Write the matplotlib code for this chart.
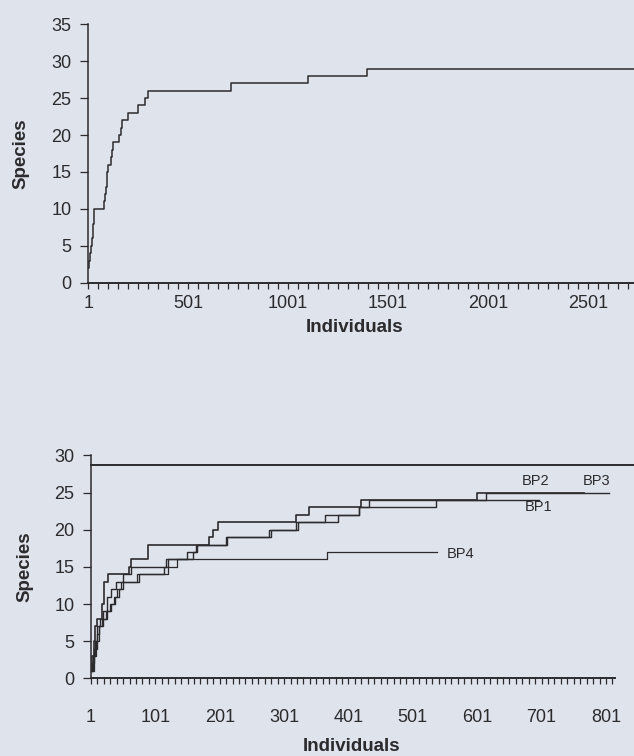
import numpy as np
import matplotlib
matplotlib.use("Agg")
import matplotlib.pyplot as plt
from matplotlib.ticker import FixedLocator, MultipleLocator

# ===============================
# DATA (individuals at which species count steps up)
# ===============================

# all samples pooled
top_ind = [1, 5, 10, 13, 20, 24, 28, 32, 82, 86, 90, 94, 98, 116, 121, 124,
           157, 163, 172, 200, 250, 283, 300, 715, 1100, 1395, 2730]
top_sp = [2, 3, 4, 5, 6, 8, 9, 10, 11, 12, 13, 15, 16, 17, 18, 19,
          20, 21, 22, 23, 24, 25, 26, 27, 28, 29, 29]

bp1_ind = [1, 3, 6, 10, 14, 20, 26, 32, 38, 44, 50, 76, 115, 120, 160, 165,
           212, 280, 322, 384, 418, 537, 697]
bp1_sp = [1, 2, 4, 6, 7, 8, 9, 10, 11, 12, 13, 14, 15, 16, 17, 18,
          19, 20, 21, 22, 23, 24, 24]

bp2_ind = [1, 3, 5, 8, 11, 18, 22, 27, 60, 63, 89, 184, 190, 198, 320, 340,
           420, 600, 767]
bp2_sp = [1, 3, 5, 7, 8, 10, 13, 14, 15, 16, 18, 19, 20, 21, 22, 23,
          24, 25, 25]

bp3_ind = [1, 4, 7, 10, 15, 20, 26, 32, 40, 50, 63, 117, 150, 164, 210, 277,
           320, 364, 418, 433, 615, 805]
bp3_sp = [1, 3, 5, 7, 8, 9, 11, 12, 13, 14, 15, 16, 17, 18, 19, 20,
          21, 22, 23, 24, 25, 25]

bp4_ind = [1, 5, 9, 13, 18, 24, 30, 36, 42, 48, 73, 120, 135, 368, 539]
bp4_sp = [1, 3, 5, 7, 8, 9, 10, 11, 12, 13, 14, 15, 16, 17, 17]

total_line = 28.7

curve_names = ["BP1", "BP2", "BP3", "BP4"]
label_pos = [(697, 23.0), (691, 26.6), (787, 26.6), (575, 16.8)]

top_labels = [1, 501, 1001, 1501, 2001, 2501]
bot_labels = [1, 101, 201, 301, 401, 501, 601, 701, 801]

# ===============================
# STYLE
# ===============================

bg = "#dfe3ec"
ink = "#2b2b2e"
plt.rcParams["font.family"] = ["Liberation Sans", "DejaVu Sans"]

fig = plt.figure(figsize=(6.34, 7.56), dpi=100)
fig.patch.set_facecolor(bg)

def style_axis(ax, xmax, ymax, major, minor_step, xpad):
    ax.set_facecolor(bg)
    for s in ["top", "right"]:
        ax.spines[s].set_visible(False)
    ax.spines["left"].set_color(ink)
    ax.spines["left"].set_linewidth(1.1)
    ax.spines["bottom"].set_color(ink)
    ax.spines["bottom"].set_linewidth(1.4)
    ax.set_xlim(1, xmax)
    ax.set_ylim(0, ymax)
    ax.xaxis.set_major_locator(FixedLocator(major))
    ax.xaxis.set_minor_locator(FixedLocator(np.arange(1, xmax, minor_step)))
    ax.set_xticklabels([str(v) for v in major])
    ax.yaxis.set_major_locator(MultipleLocator(5))
    ax.tick_params(axis="y", direction="out", length=6, width=0.9,
                   color=ink, labelsize=13, labelcolor=ink, pad=6)
    ax.tick_params(axis="x", which="both", direction="out", length=4,
                   width=0.9, color=ink, labelsize=13, labelcolor=ink,
                   pad=xpad)

# ===============================
# TOP PANEL
# ===============================

ax1 = fig.add_axes([0.139, 0.626, 0.861, 0.342])
style_axis(ax1, 2730, 35, top_labels, 50, 5)
ax1.step(top_ind, top_sp, where="post", color=ink, lw=1.1)

fig.text(0.033, 0.797, "Species", rotation=90, ha="center", va="center",
         fontsize=13.5, fontweight="bold", color=ink)
fig.text(0.56, 0.567, "Individuals", ha="center", va="center",
         fontsize=13.5, fontweight="bold", color=ink)

# ===============================
# BOTTOM PANEL
# ===============================

ax2 = fig.add_axes([0.1435, 0.1028, 0.8265, 0.2947])
style_axis(ax2, 815, 30, bot_labels, 10, 18)

curves = [(bp1_ind, bp1_sp, 1.0), (bp2_ind, bp2_sp, 1.2),
          (bp3_ind, bp3_sp, 1.0), (bp4_ind, bp4_sp, 0.9)]
for (xs, ys, w) in curves:
    ax2.step(xs, ys, where="post", color=ink, lw=w)

ax2.plot([1, 845], [total_line, total_line], color=ink, lw=1.4, clip_on=False)

for name, (lx, ly) in zip(curve_names, label_pos):
    ax2.text(lx, ly, name, ha="center", va="center", fontsize=10.5, color=ink)

fig.text(0.04, 0.25, "Species", rotation=90, ha="center", va="center",
         fontsize=13.5, fontweight="bold", color=ink)
fig.text(0.555, 0.012, "Individuals", ha="center", va="center",
         fontsize=13.5, fontweight="bold", color=ink)

fig.savefig("out.png", dpi=100, facecolor=bg)
